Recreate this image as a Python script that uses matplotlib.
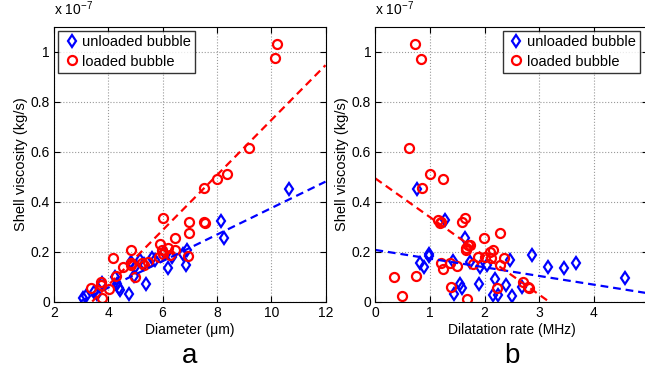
import numpy as np
import matplotlib
matplotlib.use('Agg')
import matplotlib.pyplot as plt

plt.rcParams['font.family'] = ['Liberation Sans', 'DejaVu Sans']
plt.rcParams['mathtext.fontset'] = 'custom'
plt.rcParams['mathtext.rm'] = 'Liberation Sans'
plt.rcParams['mathtext.it'] = 'Liberation Sans:italic'

# viscosity values are in units of 1e-7 kg/s
# panel a: diameter (um)
diam_unloaded = [6.91, 6.86, 6.74, 6.21, 6.05, 5.72, 5.60, 5.17, 5.30, 4.84, 4.96, 5.38, 4.77,
                 4.43, 4.38, 4.31, 4.26, 3.76, 3.60, 3.47, 3.18, 3.08, 10.67, 8.14, 8.27, 5.00, 6.35]
visc_unloaded_a = [0.205, 0.147, 0.19, 0.136, 0.20, 0.167, 0.175, 0.167, 0.15, 0.16, 0.103, 0.07, 0.03,
                   0.047, 0.055, 0.07, 0.10, 0.073, 0.03, 0.04, 0.024, 0.013, 0.45, 0.324, 0.255, 0.14, 0.18]
diam_loaded = [6.03, 6.97, 6.97, 6.46, 5.90, 6.19, 5.97, 6.46, 6.03, 6.27, 5.88, 6.95, 4.82, 4.18,
               4.55, 4.84, 4.85, 5.23, 5.30, 5.47, 4.98, 4.28, 3.72, 3.74, 4.04, 3.35, 3.76,
               10.22, 10.14, 9.17, 8.38, 8.00, 7.54, 7.51, 7.55]
visc_loaded_a = [0.333, 0.32, 0.273, 0.253, 0.23, 0.216, 0.207, 0.207, 0.19, 0.187, 0.18, 0.183, 0.207, 0.176,
                 0.14, 0.154, 0.145, 0.154, 0.147, 0.158, 0.10, 0.103, 0.077, 0.065, 0.05, 0.053, 0.013,
                 1.03, 0.973, 0.613, 0.51, 0.49, 0.456, 0.319, 0.314]

# panel b: dilatation rate (MHz)
rate_unloaded = [0.76, 1.27, 1.64, 0.98, 0.99, 0.82, 0.89, 1.42, 1.73, 1.92, 2.05, 1.55, 1.58, 1.44,
                 1.89, 2.46, 2.87, 3.17, 3.45, 3.67, 4.58, 2.19, 2.40, 2.68, 2.16, 2.25, 2.51]
visc_unloaded_b = [0.45, 0.327, 0.256, 0.19, 0.183, 0.156, 0.14, 0.164, 0.16, 0.137, 0.147, 0.071, 0.053, 0.03,
                   0.07, 0.167, 0.187, 0.14, 0.133, 0.156, 0.096, 0.09, 0.067, 0.06, 0.027, 0.027, 0.023]
rate_loaded = [0.72, 0.83, 0.615, 1.0, 1.23, 0.85, 1.15, 1.18, 1.2, 1.64, 1.59, 1.99, 1.73, 1.66, 1.66,
               1.69, 1.88, 2.0, 1.21, 1.24, 1.37, 1.49, 1.78, 0.34, 0.74, 1.38, 0.48, 1.67, 2.29, 2.16,
               2.09, 2.12, 2.36, 2.28, 2.71, 2.81, 2.79, 2.23]
visc_loaded_b = [1.03, 0.972, 0.615, 0.51, 0.49, 0.453, 0.325, 0.315, 0.32, 0.333, 0.32, 0.253, 0.227, 0.215, 0.207,
                 0.225, 0.178, 0.18, 0.156, 0.13, 0.156, 0.143, 0.151, 0.10, 0.103, 0.06, 0.023, 0.01, 0.273, 0.207,
                 0.2, 0.173, 0.176, 0.147, 0.08, 0.055, 0.06, 0.053]

# linear fits (slope, intercept)
fit_a_unloaded = (0.053, -0.053 * 2.94)
fit_a_loaded = (0.11, -0.11 * 3.4)
fit_b_unloaded = (-0.0347, 0.207)
fit_b_loaded = (-0.155, 0.493)

W, H = 645, 379
fig = plt.figure(figsize=(W / 100, H / 100), dpi=100)
ax1 = fig.add_axes([54 / W, (H - 301.7) / H, 271.5 / W, 275 / H])
ax2 = fig.add_axes([375.4 / W, (H - 301.7) / H, 273 / W, 275 / H])

mk = dict(linestyle='none', markerfacecolor='none', markeredgewidth=1.6)


def style(ax, xlim, xticks, xlabels):
    ax.set_xlim(*xlim)
    ax.set_ylim(0, 1.1)
    ax.set_xticks(xticks)
    ax.set_xticklabels(xlabels)
    ax.set_yticks([0, 0.2, 0.4, 0.6, 0.8, 1.0])
    ax.set_yticklabels(['0', '0.2', '0.4', '0.6', '0.8', '1'])
    ax.tick_params(direction='in', length=4, top=True, right=True, labelsize=10, pad=3, width=0.8)
    ax.grid(True, linestyle=':', color='0.6', linewidth=0.8)
    for s in ax.spines.values():
        s.set_linewidth(0.8)
    ax.set_ylabel('Shell viscosity (kg/s)', fontsize=10.5, labelpad=2)
    ax.text(0, 1.03, r'x 10$^{-7}$', transform=ax.transAxes, fontsize=10, ha='left', va='bottom')


# panel a
ax1.plot(diam_unloaded, visc_unloaded_a, 'd', color='blue', markersize=6, label='unloaded bubble', **mk)
ax1.plot(diam_loaded, visc_loaded_a, 'o', color='red', markersize=6.5, label='loaded bubble', **mk)
xa = np.linspace(2, 12, 200)
ya = fit_a_unloaded[0] * xa + fit_a_unloaded[1]
ax1.plot(xa[ya >= 0], ya[ya >= 0], '--', color='blue', linewidth=1.6, dashes=(3.5, 2.2))
ya = fit_a_loaded[0] * xa + fit_a_loaded[1]
ax1.plot(xa[ya >= 0], ya[ya >= 0], '--', color='red', linewidth=1.6, dashes=(3.5, 2.2))
style(ax1, (2, 12), [2, 4, 6, 8, 10, 12], ['2', '4', '6', '8', '10', '12'])
ax1.set_xlabel('Diameter (\u03bcm)', fontsize=10, labelpad=2)
ax1.legend(loc='upper left', fontsize=10.5, frameon=True, fancybox=False, edgecolor='black',
           borderaxespad=0.3, handletextpad=0.1, handlelength=1.2, borderpad=0.3, labelspacing=0.35)

# panel b
ax2.plot(rate_unloaded, visc_unloaded_b, 'd', color='blue', markersize=6, label='unloaded bubble', **mk)
ax2.plot(rate_loaded, visc_loaded_b, 'o', color='red', markersize=6.5, label='loaded bubble', **mk)
xb = np.linspace(0, 5, 200)
yb = fit_b_unloaded[0] * xb + fit_b_unloaded[1]
ax2.plot(xb, yb, '--', color='blue', linewidth=1.6, dashes=(3.5, 2.2))
yb = fit_b_loaded[0] * xb + fit_b_loaded[1]
ax2.plot(xb[yb >= 0], yb[yb >= 0], '--', color='red', linewidth=1.6, dashes=(3.5, 2.2))
style(ax2, (0, 5), [0, 1, 2, 3, 4, 5], ['0', '1', '2', '3', '4', ''])
ax2.set_xlabel('Dilatation rate (MHz)', fontsize=10, labelpad=2)
ax2.legend(loc='upper right', fontsize=10.5, frameon=True, fancybox=False, edgecolor='black',
           borderaxespad=0.3, handletextpad=0.1, handlelength=1.2, borderpad=0.3, labelspacing=0.35,
           bbox_to_anchor=(0.985, 1.0))

fig.text(190 / W, 1 - 356 / H, 'a', fontsize=20, ha='center', va='center')
fig.text(512 / W, 1 - 356 / H, 'b', fontsize=20, ha='center', va='center')

fig.savefig('out.png', dpi=100)
